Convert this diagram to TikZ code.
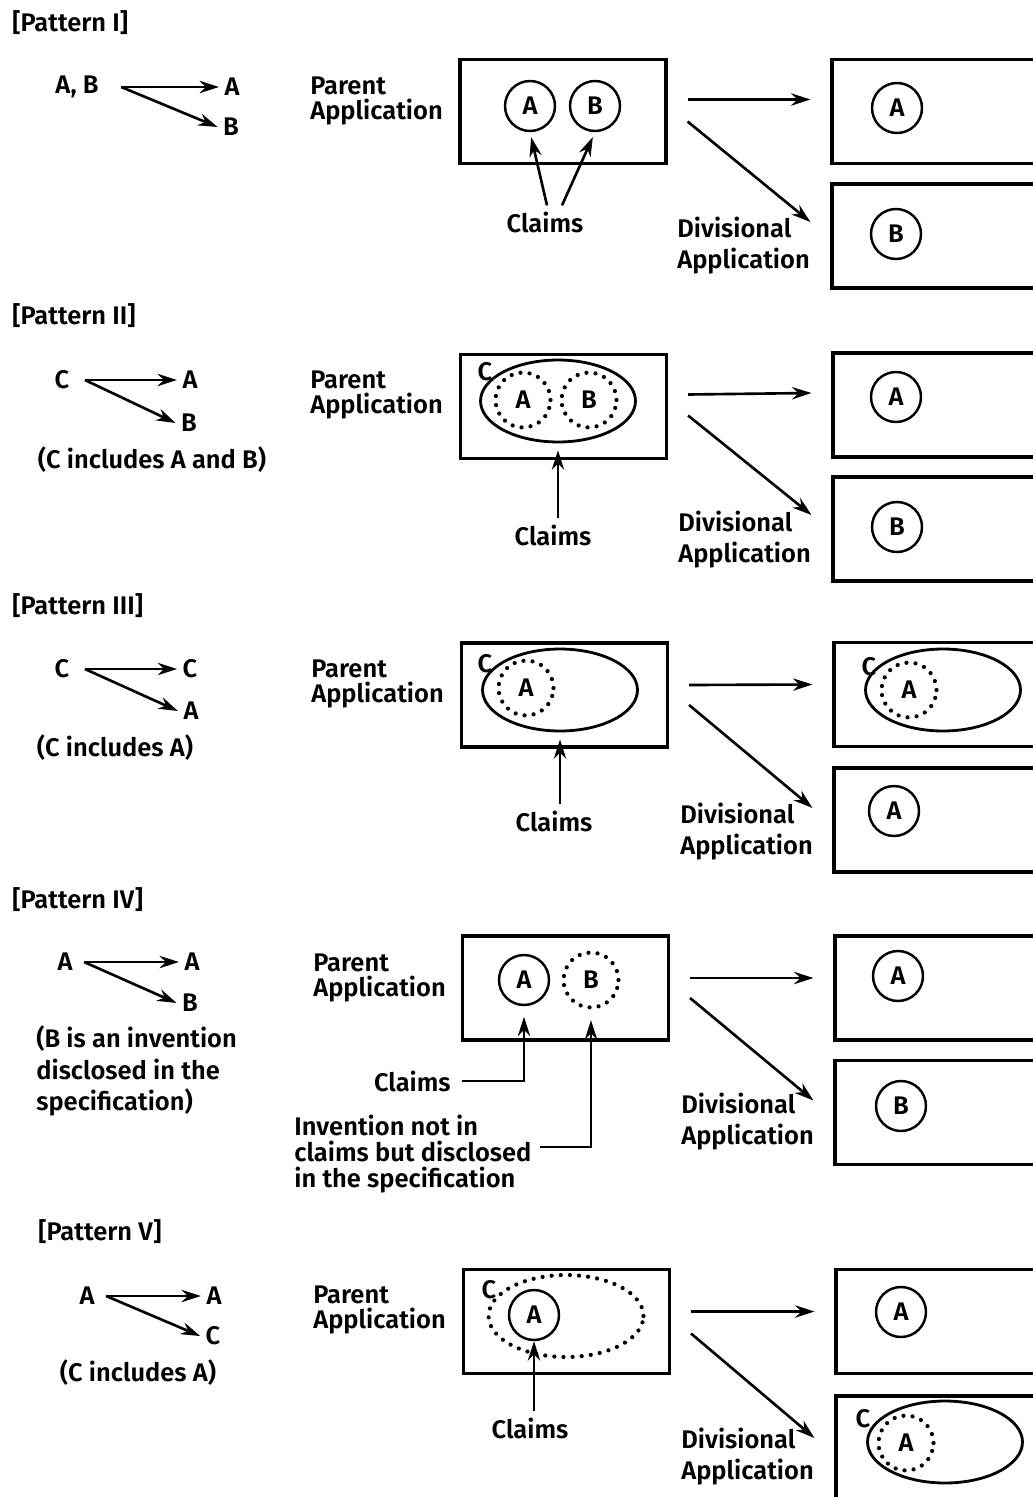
\documentclass[tikz,border=0pt]{standalone}
\usepackage{fontspec}
\setmainfont{Fira Sans SemiBold}
\usetikzlibrary{shapes.geometric,arrows.meta,positioning,calc}

\begin{document}
\begin{tikzpicture}[x=0.02cm,y=-0.02cm,
  font=\fontsize{14.5}{15}\selectfont,
  txt/.style={inner sep=0pt,align=left},
  partxt/.style={txt,font=\fontsize{14.5}{14.7}\selectfont},
  divtxt/.style={txt,font=\fontsize{14.5}{17.6}\selectfont},
  sym/.style={inner sep=3pt},
  appbox/.style={draw,line width=1.8pt,minimum width=4.12cm,minimum height=2.08cm,inner sep=0pt},
  divbox/.style={appbox,minimum width=4.4cm},
  inv/.style={circle,draw,line width=1.4pt,minimum size=1cm,inner sep=0pt},
  dinv/.style={circle,draw,line width=2.4pt,line cap=round,dash pattern=on 0pt off 5.2pt,minimum size=1.1cm,inner sep=0pt},
  genus/.style={ellipse,draw,line width=1.6pt,minimum width=3.1cm,minimum height=1.64cm,inner sep=0pt},
  dgenus/.style={genus,line width=2.4pt,line cap=round,dash pattern=on 0pt off 5.2pt},
  arr/.style={-{Stealth[length=11pt,width=7pt]},line width=1.5pt}
]
\useasboundingbox (0,0) rectangle (1033,1497);

% ---------- Pattern I ----------
\node[txt,anchor=west] (t1) at (12,23) {[Pattern I]};
\node[sym] (ab1) at (77,87) {A, B};
\node[sym] (a1)  at (232,87) {A};
\node[sym] (b1)  at (231,127) {B};
\draw[arr] ([xshift=0.34cm]ab1.east) -- (a1.west);
\draw[arr] ([xshift=0.34cm]ab1.east) -- (b1.west);
\node[partxt,anchor=west] (pa1) at (310,101) {Parent\\Application};
\node[appbox] (par1) at (563,111.5) {};
\node[inv] (inA1) at (530,106) {A};
\node[inv] (inB1) at (595,106) {B};
\node (cl1) at (545,222) {Claims};
\draw[arr,shorten >=3pt] ([xshift=0.04cm]cl1.north) -- (inA1.south);
\draw[arr,shorten >=3pt] ([xshift=0.34cm]cl1.north) -- (inB1.south);
\node[divbox] (dA1) at (942,111.5) {};
\node[divbox] (dB1) at (942,236) {};
\node[inv] (outA1) at (897,108) {A};
\node[inv] (outB1) at (896,234) {B};
\draw[arr] ([shift={(20,-12)}]par1.east) -- ([shift={(-20,-12)}]dA1.west);
\draw[arr] ([shift={(20,10)}]par1.east) -- ([shift={(-20,-14)}]dB1.west);
\node[divtxt,anchor=west] (dv1) at (677,246) {Divisional\\Application};

% ---------- Pattern II ----------
\node[txt,anchor=west] (t2) at (12,316) {[Pattern II]};
\node[sym] (c2) at (62,380) {C};
\node[sym] (a2) at (190,380) {A};
\node[sym] (b2) at (189,423) {B};
\draw[arr] ([xshift=0.2cm]c2.east) -- (a2.west);
\draw[arr] ([xshift=0.2cm]c2.east) -- (b2.west);
\node (n2) at (152,460) {(C includes A and B)};
\node[partxt,anchor=west] (pa2) at (310,395) {Parent\\Application};
\node[appbox] (par2) at (563.5,406.5) {};
\node[genus] (gen2) at (558,401) {};
\node[inner sep=0pt] (gc2) at (485,372) {C};
\node[dinv] (inA2) at (523,400) {A};
\node[dinv] (inB2) at (589,400) {B};
\node (cl2) at (553,535) {Claims};
\draw[arr,shorten >=4pt] (cl2.north -| gen2.south) -- (gen2.south);
\node[divbox] (dA2) at (943,405) {};
\node[divbox] (dB2) at (943,529) {};
\node[inv] (outA2) at (896,397) {A};
\node[inv] (outB2) at (897,527) {B};
\draw[arr] ([shift={(20,-12)}]par2.east) -- ([shift={(-20,-12)}]dA2.west);
\draw[arr] ([shift={(20,9)}]par2.east) -- ([shift={(-20,-14)}]dB2.west);
\node[divtxt,anchor=west] (dv2) at (678,540) {Divisional\\Application};

% ---------- Pattern III ----------
\node[txt,anchor=west] (t3) at (12,606) {[Pattern III]};
\node[sym] (c3)  at (62,669) {C};
\node[sym] (cc3) at (190,669) {C};
\node[sym] (a3)  at (191,711) {A};
\draw[arr] ([xshift=0.2cm]c3.east) -- (cc3.west);
\draw[arr] ([xshift=0.2cm]c3.east) -- (a3.west);
\node (n3) at (115,748) {(C includes A)};
\node[partxt,anchor=west] (pa3) at (311,684) {Parent\\Application};
\node[appbox] (par3) at (564.5,695) {};
\node[genus] (gen3) at (560,690) {};
\node[inner sep=0pt] (gc3) at (485,664) {C};
\node[dinv] (inA3) at (526,688) {A};
\node (cl3) at (554,821) {Claims};
\draw[arr,shorten >=4pt] (cl3.north -| gen3.south) -- (gen3.south);
\node[divbox] (dA3) at (944,694.5) {};
\node[divbox] (dB3) at (944,820) {};
\node[genus] (outC3) at (943,690) {};
\node[inner sep=0pt] (oc3) at (869,667) {C};
\node[dinv] (outA3) at (909,690) {A};
\node[inv] (outB3) at (894,811) {A};
\draw[arr] ([shift={(20,-10)}]par3.east) -- ([shift={(-20,-10)}]dA3.west);
\draw[arr] ([shift={(20,10)}]par3.east) -- ([shift={(-20,-12)}]dB3.west);
\node[divtxt,anchor=west] (dv3) at (680,832) {Divisional\\Application};

% ---------- Pattern IV ----------
\node[txt,anchor=west] (t4) at (12,900) {[Pattern IV]};
\node[sym] (a4)  at (65,962) {A};
\node[sym] (aa4) at (192,962) {A};
\node[sym] (b4)  at (190,1003) {B};
\draw[arr] ([xshift=0.12cm]a4.east) -- (aa4.west);
\draw[arr] ([xshift=0.12cm]a4.east) -- (b4.west);
\node[txt,anchor=west,font=\fontsize{14.5}{18}\selectfont] (n4) at (36,1071)
  {(B is an invention\\disclosed in the\\specification)};
\node[partxt,anchor=west] (pa4) at (313,978) {Parent\\Application};
\node[appbox] (par4) at (565.5,988) {};
\node[inv] (inA4) at (524,980) {A};
\node[dinv] (inB4) at (591,980) {B};
\node[anchor=east,inner sep=0pt] (cl4) at (451,1081) {Claims};
\draw[arr,shorten >=6pt] ([xshift=0.22cm]cl4.east) -| (inA4.south);
\node[partxt,anchor=west] (sp4) at (294,1154)
  {Invention not in\\claims but disclosed\\in the specification};
\draw[arr,shorten >=6pt] ([shift={(8,-7)}]sp4.east) -| (inB4.south);
\node[divbox] (dA4) at (945,988) {};
\node[divbox] (dB4) at (945,1112.5) {};
\node[inv] (outA4) at (898,976) {A};
\node[inv] (outB4) at (901,1106) {B};
\draw[arr] ([shift={(20,-10)}]par4.east) -- ([shift={(-20,-10)}]dA4.west);
\draw[arr] ([shift={(20,10)}]par4.east) -- ([shift={(-20,-12)}]dB4.west);
\node[divtxt,anchor=west] (dv4) at (681,1122) {Divisional\\Application};

% ---------- Pattern V ----------
\node[txt,anchor=west] (t5) at (38,1232) {[Pattern V]};
\node[sym] (a5)  at (87,1296) {A};
\node[sym] (aa5) at (214,1296) {A};
\node[sym] (c5)  at (213,1336) {C};
\draw[arr] ([xshift=0.12cm]a5.east) -- (aa5.west);
\draw[arr] ([xshift=0.12cm]a5.east) -- (c5.west);
\node (n5) at (138,1373) {(C includes A)};
\node[partxt,anchor=west] (pa5) at (313,1310) {Parent\\Application};
\node[appbox] (par5) at (566.5,1321.5) {};
\node[dgenus] (gen5) at (566,1316) {};
\node[inner sep=0pt] (gc5) at (489,1290) {C};
\node[inv] (inA5) at (534,1315) {A};
\node (cl5) at (530,1428) {Claims};
\draw[arr] (cl5.north -| inA5.south) -- (inA5.south);
\node[divbox] (dA5) at (946,1321.5) {};
\node[divbox] (dB5) at (946,1448) {};
\node[inv] (outA5) at (901,1312) {A};
\node[genus] (outC5) at (945,1442) {};
\node[inner sep=0pt] (oc5) at (863,1419) {C};
\node[dinv] (outB5) at (906,1443) {A};
\draw[arr] ([shift={(20,-10)}]par5.east) -- ([shift={(-20,-10)}]dA5.west);
\draw[arr] ([shift={(20,12)}]par5.east) -- ([shift={(-20,-10)}]dB5.west);
\node[divtxt,anchor=west] (dv5) at (681,1457) {Divisional\\Application};
\end{tikzpicture}
\end{document}
